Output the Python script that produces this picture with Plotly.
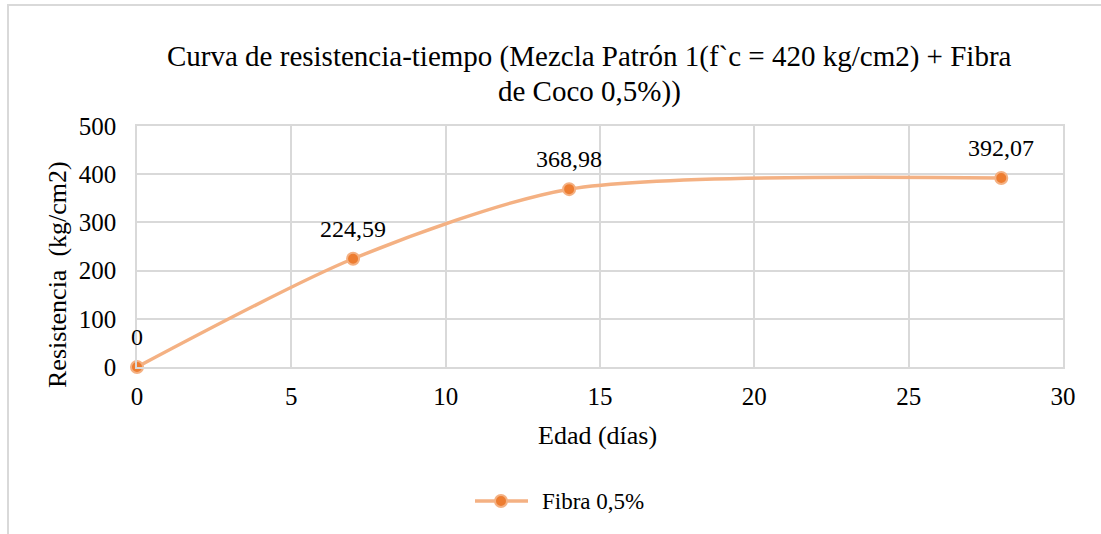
import plotly.graph_objects as go

# Compressive strength vs. curing age
edad_dias = [0, 7, 14, 28]
resistencia = [0, 224.59, 368.98, 392.07]
etiquetas = [("%g" % v if v == 0 else f"{v:.2f}").replace(".", ",") for v in resistencia]

x_ticks = [0, 5, 10, 15, 20, 25, 30]
y_ticks = [0, 100, 200, 300, 400, 500]

titulo = ["Curva de resistencia-tiempo (Mezcla Patrón 1(f`c = 420 kg/cm2) + Fibra",
          "de Coco 0,5%))"]
serie = "Fibra 0,5%"

FONT = "'Times New Roman', 'Liberation Serif', serif"
GRID = "#D9D9D9"
LINE_C = "#F4B183"
MARK_C = "#ED7D31"

# plot area in pixels
L, R, T, B = 137, 1063, 126, 367
W, H = R - L, B - T


def px(x):
    return (x - L) / W


def py(y):
    return (B - y) / H


fig = go.Figure()
fig.add_trace(go.Scatter(
    x=edad_dias, y=resistencia,
    mode="lines+markers",
    name=serie,
    line=dict(color=LINE_C, width=3.5, shape="spline", smoothing=0.75),
    marker=dict(color=MARK_C, size=12, line=dict(color=LINE_C, width=2)),
    cliponaxis=False,
    showlegend=False,
))

annotations = []
# value labels above each point
for xv, yv, t in zip(edad_dias, resistencia, etiquetas):
    annotations.append(dict(
        x=xv, y=yv, xref="x", yref="y", text=t, showarrow=False,
        yshift=30, xanchor="center", yanchor="middle",
        font=dict(family=FONT, size=24, color="#000000"),
    ))

# two-line chart title
for txt, yy in zip(titulo, [57, 91]):
    annotations.append(dict(
        x=px(589), y=py(yy), xref="paper", yref="paper", text=txt, showarrow=False,
        xanchor="center", yanchor="middle",
        font=dict(family=FONT, size=29, color="#000000"),
    ))

# axis titles
annotations.append(dict(
    x=px(597), y=py(435), xref="paper", yref="paper", text="Edad (días)",
    showarrow=False, xanchor="center", yanchor="middle",
    font=dict(family=FONT, size=26, color="#000000"),
))
annotations.append(dict(
    x=px(57), y=py(275), xref="paper", yref="paper", text="Resistencia  (kg/cm2)",
    showarrow=False, xanchor="center", yanchor="middle", textangle=-90,
    font=dict(family=FONT, size=26, color="#000000"),
))

# legend entry
annotations.append(dict(
    x=px(540), y=py(501), xref="paper", yref="paper", text=serie,
    showarrow=False, xanchor="left", yanchor="middle",
    font=dict(family=FONT, size=23, color="#000000"),
))

shapes = [
    # chart frame
    dict(type="rect", xref="paper", yref="paper",
         x0=px(8), x1=1.2, y0=-1.0, y1=py(5),
         line=dict(color=GRID, width=2), fillcolor="rgba(0,0,0,0)", layer="below"),
    # legend symbol: line + marker
    dict(type="line", xref="paper", yref="paper",
         x0=px(475), x1=px(528), y0=py(501), y1=py(501),
         line=dict(color=LINE_C, width=3.5)),
    dict(type="circle", xref="paper", yref="paper",
         xsizemode="pixel", ysizemode="pixel",
         xanchor=px(501), yanchor=py(501), x0=-6, x1=6, y0=-6, y1=6,
         fillcolor=MARK_C, line=dict(color=LINE_C, width=2)),
]

fig.update_layout(
    width=1101, height=534,
    margin=dict(l=L, r=1101 - R, t=T, b=534 - B),
    paper_bgcolor="white", plot_bgcolor="white",
    font=dict(family=FONT, color="#000000"),
    xaxis=dict(
        range=[0, 30], tickvals=x_ticks, showgrid=True, gridcolor=GRID, gridwidth=1.5,
        zeroline=False, showline=True, linecolor=GRID, linewidth=1.5, mirror=True,
        ticks="", tickfont=dict(family=FONT, size=25), ticklabelstandoff=6,
    ),
    yaxis=dict(
        range=[0, 500], tickvals=y_ticks, showgrid=True, gridcolor=GRID, gridwidth=1.5,
        zeroline=False, showline=True, linecolor=GRID, linewidth=1.5, mirror=True,
        ticks="", tickfont=dict(family=FONT, size=25), ticklabelstandoff=14,
    ),
    showlegend=False,
    annotations=annotations,
    shapes=shapes,
)

fig.write_html("out.html")
